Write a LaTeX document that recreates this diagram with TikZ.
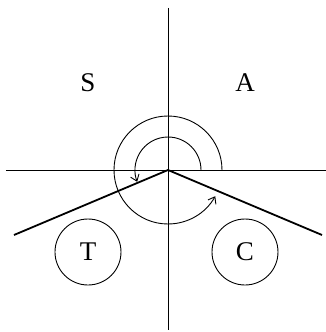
\documentclass[tikz,border=0pt]{standalone}
\usepackage{fontspec}
\setmainfont{Liberation Serif}
\usetikzlibrary{
    arrows.meta,
    positioning
}

\begin{document}
\begin{tikzpicture}[x=1pt,y=1pt,line width=0.9pt,
    lbl/.style={font=\fontsize{27}{27}\selectfont},
    ring/.style={circle,draw,minimum size=66pt,inner sep=0pt,
                 font=\fontsize{27}{27}\selectfont},
    barb/.style={-{Straight Barb[length=6pt,width=9pt]}}]

\useasboundingbox (-168,-162) rectangle (158,170);

\coordinate (o) at (0,0);
\coordinate (top) at (0,162);
\coordinate (bot) at (0,-160);
\coordinate (lft) at (-162,0);
\coordinate (rgt) at (158,0);
\coordinate (wl) at (-154,-65);
\coordinate (wr) at (154,-65);

% Axes
\draw (top) -- (bot);
\draw (lft) -- (rgt);

% Wings
\draw[line width=1.8pt] (wl) -- (o) -- (wr);

% Rotation arrows
\draw[barb] (54,0) arc[start angle=0,end angle=331,radius=54];
\draw[barb] (33,0) arc[start angle=0,end angle=201,radius=33];

% Labels
\node[lbl] (s) at (-80,87) {S};
\node[lbl] (a) at (77,87) {A};
\node[ring] (t) at (-80,-82) {T};
\node[ring] (c) at (77,-82) {C};

\end{tikzpicture}
\end{document}
